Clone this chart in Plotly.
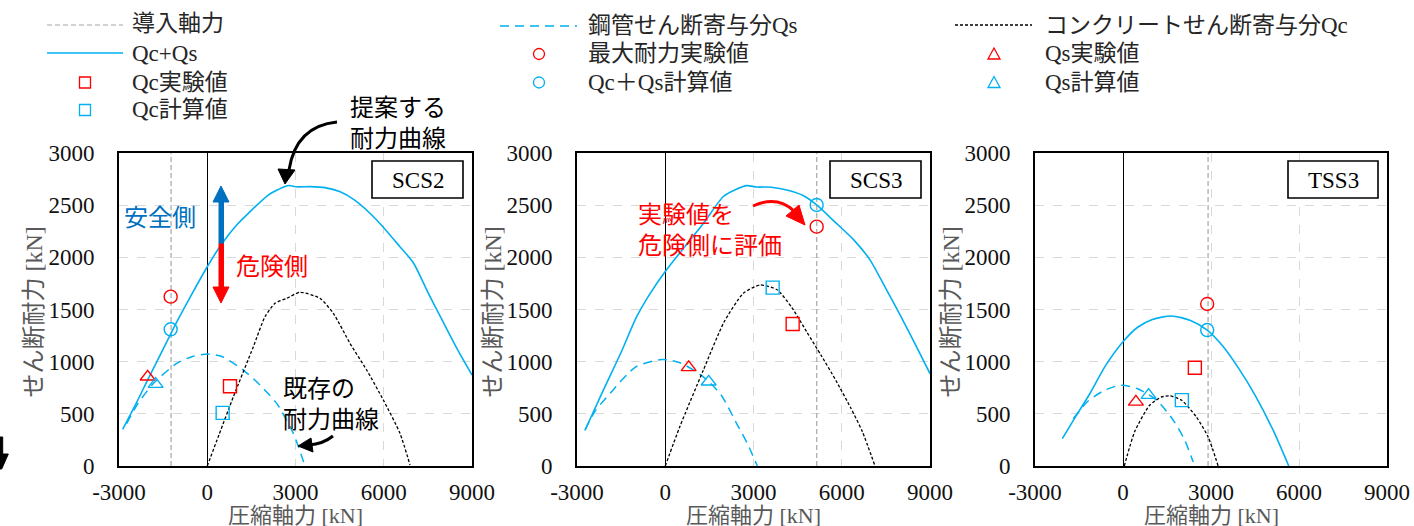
import plotly.graph_objects as go

W, H = 1414, 526

# ---------------- data ----------------
specimens = ["SCS2", "SCS3", "TSS3"]
axial_force = [-1230, 5150, 2900]          # 導入軸力 [kN]

# 提案する耐力曲線 Qc+Qs
total_x = [
    [-2875, -2400, -2000, -1500, -1000, -500, 0, 491, 1000, 1396, 2075, 2643, 2800, 3040,
     3500, 4003, 4500, 5000, 5760, 6550, 7000, 7500, 8000, 8500, 9000],
    [-2728, -2105, -1500, -972, -500, 0, 600, 1295, 1975, 2400, 2768, 3108, 3600, 4200,
     4700, 5147, 5800, 6400, 6960, 7500, 8000, 8500, 9000],
    [-2069, -1600, -1127, -600, 0, 500, 1000, 1655, 2300, 2870, 3400, 3982, 4500, 5118, 5651],
]
total_y = [
    [352, 610, 840, 1120, 1400, 1660, 1910, 2128, 2310, 2422, 2597, 2680, 2688, 2676,
     2678, 2668, 2630, 2550, 2358, 2102, 1950, 1665, 1390, 1120, 872],
    [343, 727, 1090, 1431, 1660, 1864, 2080, 2324, 2583, 2650, 2687, 2674, 2672, 2640,
     2590, 2502, 2330, 2170, 1976, 1700, 1440, 1165, 886],
    [263, 480, 695, 960, 1191, 1330, 1405, 1438, 1395, 1303, 1150, 919, 680, 343, 0],
]

# 鋼管せん断寄与分 Qs
steel_x = [
    [-2740, -2400, -1833, -1040, -500, 0, 500, 1227, 1793, 2360, 2925, 3322],
    [-2728, -2400, -1878, -1000, -122, 500, 1295, 1900, 2428, 2800, 3130],
    [-1694, -1200, -600, -48, 500, 1144, 1712, 2100, 2393],
]
steel_y = [
    [406, 580, 790, 983, 1050, 1073, 1050, 919, 776, 600, 313, 0],
    [343, 520, 695, 950, 1021, 990, 855, 680, 407, 210, 0],
    [455, 620, 730, 775, 740, 631, 439, 250, 38],
]

# コンクリートせん断寄与分 Qc
conc_x = [
    [0, 400, 887, 1567, 1963, 2303, 2700, 3153, 3833, 4285, 4852, 5419, 5985, 6552, 6892],
    [0, 500, 1295, 2000, 2654, 3221, 3800, 4300, 4800, 5300, 5800, 6300, 6700, 7130],
    [43, 400, 900, 1300, 1598, 2000, 2500, 2900, 3244],
]
conc_y = [
    [0, 300, 663, 1143, 1431, 1559, 1607, 1665, 1607, 1464, 1176, 920, 633, 313, 10],
    [0, 380, 919, 1380, 1655, 1735, 1690, 1520, 1290, 1060, 820, 560, 330, 0],
    [0, 330, 580, 660, 672, 630, 470, 280, 0],
]

# 実験値・計算値
max_exp_x = [-1244, 5147, 2870]
max_exp_y = [1623, 2294, 1553]
total_calc_x = [-1244, 5147, 2870]
total_calc_y = [1310, 2502, 1303]
qc_exp_x = [773, 4331, 2450]
qc_exp_y = [765, 1361, 941]
qc_calc_x = [524, 3652, 2007]
qc_calc_y = [509, 1710, 631]
qs_exp_x = [-2025, 796, 440]
qs_exp_y = [855, 945, 615]
qs_calc_x = [-1754, 1476, 871]
qs_calc_y = [785, 807, 679]

x_tickvals = [-3000, 0, 3000, 6000, 9000]
x_ticktext = ["-3000", "0", "3000", "6000", "9000"]
y_tickvals = [0, 500, 1000, 1500, 2000, 2500, 3000]
y_ticktext = ["0", "500", "1000", "1500", "2000", "2500", "3000"]

# ---------------- styles ----------------
BLUE = "#00B0F0"
RED = "#FF0000"
GRAY = "#A6A6A6"
FONT = "Liberation Serif, 'Noto Sans CJK JP', serif"
GOTHIC = "'Noto Sans CJK JP', sans-serif"

# plot areas in pixels (left, right), shared top/bottom
panels_px = [(119, 472), (577, 930), (1035, 1387)]
top_px, bot_px = 153, 466
ytitle_px = [33, 492, 950]


def px(x):
    return x / W


def py(y):
    return 1 - y / H


fig = go.Figure()


def sym(i, name, x, y, symbol, color):
    fig.add_trace(go.Scatter(
        x=[x], y=[y], mode="markers", name=name, showlegend=False,
        marker=dict(symbol=symbol, size=13, color=color, line=dict(color=color, width=1.4)),
        xaxis=f"x{i + 1 if i else ''}", yaxis=f"y{i + 1 if i else ''}"))


for i in range(3):
    xa = f"x{i + 1 if i else ''}"
    ya = f"y{i + 1 if i else ''}"
    fig.add_trace(go.Scatter(x=[axial_force[i], axial_force[i]], y=[0, 3000], mode="lines",
                             line=dict(color=GRAY, width=1.2, dash="5px,3px"),
                             showlegend=False, xaxis=xa, yaxis=ya))
    fig.add_trace(go.Scatter(x=steel_x[i], y=steel_y[i], mode="lines",
                             line=dict(color=BLUE, width=1.5, dash="9px,6px", shape="spline", smoothing=0.7),
                             showlegend=False, xaxis=xa, yaxis=ya))
    fig.add_trace(go.Scatter(x=conc_x[i], y=conc_y[i], mode="lines",
                             line=dict(color="#000000", width=1.3, dash="3px,2px", shape="spline", smoothing=0.6),
                             showlegend=False, xaxis=xa, yaxis=ya))
    fig.add_trace(go.Scatter(x=total_x[i], y=total_y[i], mode="lines",
                             line=dict(color=BLUE, width=1.6, shape="spline", smoothing=0.7),
                             showlegend=False, xaxis=xa, yaxis=ya))
    sym(i, "最大耐力実験値", max_exp_x[i], max_exp_y[i], "circle-open", RED)
    sym(i, "Qc＋Qs計算値", total_calc_x[i], total_calc_y[i], "circle-open", BLUE)
    sym(i, "Qc実験値", qc_exp_x[i], qc_exp_y[i], "square-open", RED)
    sym(i, "Qc計算値", qc_calc_x[i], qc_calc_y[i], "square-open", BLUE)
    sym(i, "Qs実験値", qs_exp_x[i], qs_exp_y[i], "triangle-up-open", RED)
    sym(i, "Qs計算値", qs_calc_x[i], qs_calc_y[i], "triangle-up-open", BLUE)

shapes = []
annotations = []

# ---- legend (drawn in paper coordinates) ----
legend_marks = [
    (85, 82.5, "square", RED), (85, 110, "square", BLUE),
    (539, 54, "circle", RED), (539, 82.5, "circle", BLUE),
    (994, 54, "triangle", RED), (994, 82.5, "triangle", BLUE),
]
r = 5.5
for (mx, my, s, c) in legend_marks:
    if s == "square":
        shapes.append(dict(type="rect", xref="paper", yref="paper", x0=px(mx - r), x1=px(mx + r),
                           y0=py(my + r), y1=py(my - r), line=dict(color=c, width=1.3)))
    elif s == "circle":
        shapes.append(dict(type="circle", xref="paper", yref="paper", x0=px(mx - r), x1=px(mx + r),
                           y0=py(my + r), y1=py(my - r), line=dict(color=c, width=1.3)))
    else:
        shapes.append(dict(type="path", xref="paper", yref="paper",
                           path=f"M {px(mx - 6)} {py(my + 5)} L {px(mx + 6)} {py(my + 5)} "
                                f"L {px(mx)} {py(my - 6)} Z",
                           line=dict(color=c, width=1.3)))

legend_lines = [
    (47, 123, 25, dict(color=GRAY, width=1.2, dash="5px,3px")),
    (47, 123, 53, dict(color=BLUE, width=1.6)),
    (500, 577, 26, dict(color=BLUE, width=1.6, dash="9px,6px")),
    (955, 1032, 25, dict(color="#000000", width=1.3, dash="3px,2px")),
]
for (x0, x1, ly, ln) in legend_lines:
    shapes.append(dict(type="line", xref="paper", yref="paper", x0=px(x0), x1=px(x1),
                       y0=py(ly), y1=py(ly), line=ln))

legend_texts = [
    (130, 24, "導入軸力"), (130, 54, "Qc+Qs"), (130, 82, "Qc実験値"), (130, 109, "Qc計算値"),
    (586, 25, "鋼管せん断寄与分Qs"), (586, 54, "最大耐力実験値"), (586, 82, "Qc＋Qs計算値"),
    (1043, 25, "コンクリートせん断寄与分Qc"), (1043, 54, "Qs実験値"), (1043, 82, "Qs計算値"),
]
for (tx, ty, t) in legend_texts:
    annotations.append(dict(x=px(tx), y=py(ty), xref="paper", yref="paper", text=t,
                            showarrow=False, xanchor="left", yanchor="middle",
                            font=dict(family=FONT, size=23, color="#262626")))

# ---- axis titles ----
for i, (lft, rgt) in enumerate(panels_px):
    annotations.append(dict(x=px((lft + rgt) / 2), y=py(515), xref="paper", yref="paper",
                            text="圧縮軸力 [kN]", showarrow=False, xanchor="center", yanchor="middle",
                            font=dict(family=FONT, size=22, color="#595959")))
    annotations.append(dict(x=px(ytitle_px[i]), y=py((top_px + bot_px) / 2 + 3), xref="paper",
                            yref="paper", text="せん断耐力 [kN]", textangle=-90, showarrow=False,
                            xanchor="center", yanchor="middle",
                            font=dict(family=FONT, size=24, color="#595959")))

# ---- specimen name boxes ----
boxes = [(372, 463), (830, 921), (1288, 1378)]
for (b0, b1), name in zip(boxes, specimens):
    shapes.append(dict(type="rect", xref="paper", yref="paper", x0=px(b0), x1=px(b1),
                       y0=py(198), y1=py(161), line=dict(color="#000000", width=1.6),
                       fillcolor="white", layer="above"))
    annotations.append(dict(x=px((b0 + b1) / 2), y=py(180), xref="paper", yref="paper", text=name,
                            showarrow=False, xanchor="center", yanchor="middle",
                            font=dict(family=FONT, size=23, color="#000000")))

# ---- call-out texts ----
callouts = [
    (348, 121.5, "提案する<br>耐力曲線", "#000000"),
    (281, 401.5, "既存の<br>耐力曲線", "#000000"),
    (122, 216, "安全側", "#0070C0"), (234, 264, "危険側", RED),
    (636, 228, "実験値を<br>危険側に評価", RED),
]
for (tx, ty, t, c) in callouts:
    annotations.append(dict(x=px(tx), y=py(ty), xref="paper", yref="paper", text=t,
                            showarrow=False, xanchor="left", yanchor="middle", align="left",
                            font=dict(family=GOTHIC, size=24, color=c)))


# ---- arrows (shafts and heads) ----
def path_of(cmds):
    out = []
    for c in cmds:
        if isinstance(c, str):
            out.append(c)
        else:
            out.append(f"{px(c[0]):.5f} {py(c[1]):.5f}")
    return " ".join(out)


def curve(cmds, color, width):
    shapes.append(dict(type="path", xref="paper", yref="paper", path=path_of(cmds),
                       line=dict(color=color, width=width), layer="above"))


def head(pts, color):
    cmds = ["M", pts[0]]
    for p in pts[1:]:
        cmds += ["L", p]
    cmds.append("Z")
    shapes.append(dict(type="path", xref="paper", yref="paper", path=path_of(cmds),
                       fillcolor=color, line=dict(color=color, width=1), layer="above"))


curve(["M", (337, 122), "Q", (296, 126), (289, 170)], "#000000", 3)
head([(285, 184), (278, 169), (295, 170)], "#000000")
curve(["M", (333, 436), "Q", (323, 444), (309, 445)], "#000000", 3)
head([(298, 446), (311, 438), (313, 452)], "#000000")
curve(["M", (753, 206), "Q", (777, 195), (794, 211)], RED, 3)
head([(805, 225), (786, 216), (799, 205)], RED)
head([(219, 200), (223.5, 200), (223.5, 244), (219, 244)], "#0070C0")
head([(221, 186), (213, 202), (229, 202)], "#0070C0")
head([(219, 244), (223.5, 244), (223.5, 288), (219, 288)], RED)
head([(221, 303), (213, 287), (229, 287)], RED)
head([(0, 437), (2.7, 437), (2.7, 455), (0, 455)], "#000000")
head([(0, 454), (8.3, 454), (1.7, 469), (0, 469)], "#000000")

layout = dict(
    width=W, height=H, margin=dict(l=0, r=0, t=0, b=0, autoexpand=False),
    paper_bgcolor="white", plot_bgcolor="white", showlegend=False,
    annotations=annotations, shapes=shapes,
)
for i, (lft, rgt) in enumerate(panels_px):
    sfx = str(i + 1) if i else ""
    layout[f"xaxis{sfx}"] = dict(
        domain=[lft / W, rgt / W], range=[-3000, 9000], anchor=f"y{sfx}",
        tickvals=x_tickvals, ticktext=x_ticktext,
        ticks="outside", ticklen=5, tickcolor="rgba(0,0,0,0)",
        tickfont=dict(family=FONT, size=23, color="#111111"),
        showgrid=True, gridcolor="#D9D9D9", griddash="dash", gridwidth=1,
        zeroline=True, zerolinecolor="#000000", zerolinewidth=1.3,
        showline=True, linecolor="#000000", linewidth=1.6, mirror=True, automargin=False,
    )
    layout[f"yaxis{sfx}"] = dict(
        domain=[1 - bot_px / H, 1 - top_px / H], range=[0, 3000], anchor=f"x{sfx}",
        tickvals=y_tickvals, ticktext=y_ticktext,
        ticks="outside", ticklen=18, tickcolor="rgba(0,0,0,0)",
        tickfont=dict(family=FONT, size=23, color="#111111"),
        showgrid=True, gridcolor="#D9D9D9", griddash="dash", gridwidth=1,
        zeroline=False,
        showline=True, linecolor="#000000", linewidth=1.6, mirror=True, automargin=False,
    )

fig.update_layout(**layout)
fig.write_html("out.html")
